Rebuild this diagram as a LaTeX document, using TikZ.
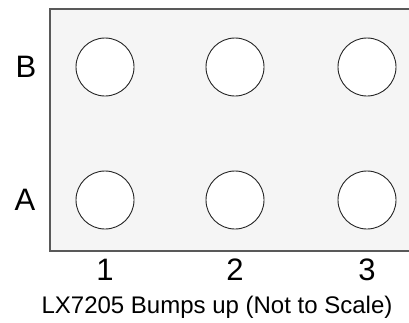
\documentclass[tikz,border=0pt]{standalone}
\usepackage{fontspec}
\setmainfont{Liberation Sans}
\begin{document}
\begin{tikzpicture}[x=1pt,y=1pt,
  bump/.style={circle,draw=black!85,line width=0.9pt,fill=white,minimum size=58pt,inner sep=0pt},
  lbl/.style={anchor=base,inner sep=0pt,font=\fontsize{31}{34}\selectfont},
  captxt/.style={anchor=base,inner sep=0pt,font=\fontsize{24}{28}\selectfont},
  board/.style={draw=black!65,line width=1.3pt}]
\useasboundingbox (0,0) rectangle (409,-322);
\fill[black!4] (50,-9) rectangle (412,-251);
\draw[board] (412,-9) -- (50,-9) -- (50,-251) -- (412,-251);
\node[bump] (b1) at (105,-67) {};
\node[bump] (b2) at (235,-67) {};
\node[bump] (b3) at (367,-67) {};
\node[bump] (a1) at (105,-200) {};
\node[bump] (a2) at (235,-200) {};
\node[bump] (a3) at (367,-200) {};
\node[lbl] (lB) at (26,-77) {B};
\node[lbl] (lA) at (25,-210) {A};
\node[lbl] (n1) at (105,-280) {1};
\node[lbl] (n2) at (235,-280) {2};
\node[lbl] (n3) at (367,-280) {3};
\node[captxt] (cap) at (217,-313) {LX7205 Bumps up (Not to Scale)};
\end{tikzpicture}
\end{document}
